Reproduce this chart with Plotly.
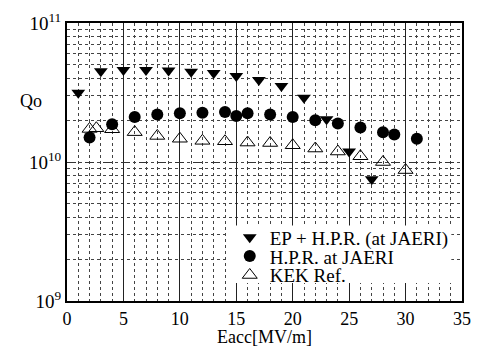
import plotly.graph_objects as go

# EP + H.P.R. (at JAERI)
ep_x = [1, 3, 5, 7, 9, 11, 13, 15, 17, 19, 21, 23, 25, 27]
ep_q = [3.15e10, 4.5e10, 4.6e10, 4.6e10, 4.55e10, 4.46e10, 4.37e10, 4.16e10, 3.89e10, 3.52e10, 2.9e10, 2.03e10, 1.19e10, 7.5e9]

# H.P.R. at JAERI
hpr_x = [2, 4, 6, 8, 10, 12, 14, 15, 16, 18, 20, 22, 24, 26, 28, 29, 31]
hpr_q = [1.5e10, 1.87e10, 2.11e10, 2.2e10, 2.24e10, 2.26e10, 2.29e10, 2.14e10, 2.24e10, 2.2e10, 2.11e10, 2.0e10, 1.89e10, 1.77e10, 1.64e10, 1.58e10, 1.47e10]

# KEK Ref.
kek_x = [2, 2.6, 4, 6, 8, 10, 12, 14, 16, 18, 20, 22, 24, 26, 28, 30]
kek_q = [1.73e10, 1.75e10, 1.72e10, 1.64e10, 1.54e10, 1.47e10, 1.42e10, 1.41e10, 1.38e10, 1.37e10, 1.32e10, 1.25e10, 1.19e10, 1.1e10, 1.0e10, 8.75e9]

x_ticks = [0, 5, 10, 15, 20, 25, 30, 35]
y_ticks = [1e9, 1e10, 1e11]
y_ticktext = ["10<sup>9</sup>", "10<sup>10</sup>", "10<sup>11</sup>"]

FONT = "Liberation Serif, Times New Roman, DejaVu Serif, serif"

fig = go.Figure()
fig.add_trace(go.Scatter(x=ep_x, y=ep_q, mode="markers", name="EP + H.P.R. (at JAERI)",
                         legend="legend",
                         marker=dict(symbol="triangle-down", size=12, color="black")))
fig.add_trace(go.Scatter(x=hpr_x, y=hpr_q, mode="markers", name="H.P.R. at JAERI",
                         legend="legend2",
                         marker=dict(symbol="circle", size=12, color="black")))
fig.add_trace(go.Scatter(x=kek_x, y=kek_q, mode="markers", name="KEK Ref.",
                         legend="legend3",
                         marker=dict(symbol="triangle-up-open", size=13, color="black",
                                     line=dict(width=1, color="black"))))

leg_common = dict(x=0.412, xanchor="left", yanchor="middle", bgcolor="rgba(0,0,0,0)",
                  borderwidth=0, font=dict(family=FONT, size=19), itemwidth=30)

fig.update_layout(
    width=481, height=350,
    margin=dict(l=67, r=10, t=22, b=49),
    paper_bgcolor="white", plot_bgcolor="white",
    font=dict(family=FONT, size=16, color="black"),
    showlegend=True,
    legend=dict(y=0.229, **leg_common),
    legend2=dict(y=0.161, **leg_common),
    legend3=dict(y=0.093, **leg_common),
    xaxis=dict(range=[0, 35], tickvals=x_ticks, showline=True, mirror=True,
               linecolor="black", linewidth=2, ticks="", showgrid=True,
               gridcolor="#222", gridwidth=1, zeroline=False,
               tickfont=dict(family=FONT, size=18),
               minor=dict(tick0=0, dtick=1, showgrid=True, gridcolor="#444", griddash="dot", gridwidth=1)),
    yaxis=dict(type="log", range=[9, 11], tickvals=y_ticks, ticktext=y_ticktext,
               showline=True, mirror=True, linecolor="black", linewidth=2, ticks="",
               showgrid=True, gridcolor="#333", griddash="dash", gridwidth=1, zeroline=False,
               tickfont=dict(family=FONT, size=19),
               minor=dict(dtick="D1", showgrid=True, gridcolor="#444", griddash="dot", gridwidth=1)),
)

# white legend backdrop
fig.add_shape(type="rect", xref="paper", yref="paper", x0=0.403, x1=0.973, y0=0.065, y1=0.272,
              fillcolor="white", line=dict(width=0), layer="above")

fig.add_annotation(text="Qo", x=-0.092, y=0.72, xref="paper", yref="paper",
                   showarrow=False, xanchor="center", yanchor="middle",
                   font=dict(family=FONT, size=18))
fig.add_annotation(text="Eacc[MV/m]", x=0.5, y=-0.085, xref="paper", yref="paper",
                   showarrow=False, xanchor="center", yanchor="top",
                   font=dict(family=FONT, size=18))

fig.write_html("out.html", config={"displayModeBar": False},
               post_script="document.body.style.margin='0';")
